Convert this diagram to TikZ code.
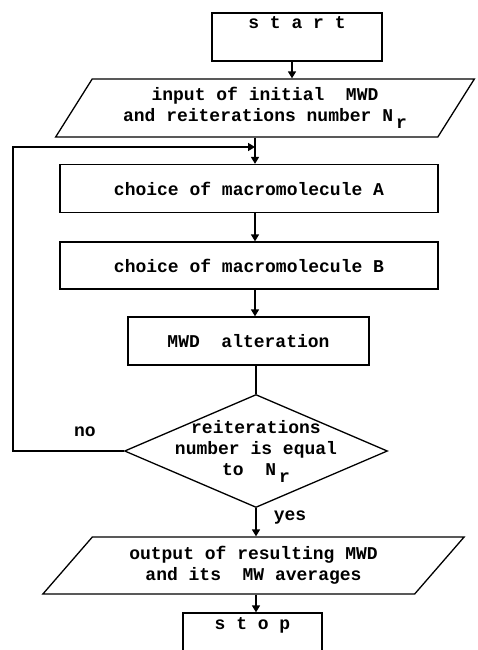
\documentclass[tikz,border=0pt]{standalone}
\usepackage{fontspec}
\setmonofont{Liberation Mono}
\usepackage{tikz}
\usetikzlibrary{arrows.meta, shapes.geometric}

\newcommand{\Nr}{N\,\raisebox{-7pt}{r}}

\begin{document}
\begin{tikzpicture}[x=1pt, y=-1pt, font=\fontsize{18}{21}\selectfont\ttfamily\bfseries]
        \useasboundingbox (0, 0) rectangle (477, 650);
        \tikzset{box/.style={draw, line width=1.3pt, inner sep=0pt, align=center},
                 io/.style={trapezium, draw, line width=1.3pt, inner sep=0pt, align=center, trapezium stretches=true},
                 flow/.style={line width=1.3pt, -{Triangle[angle=60:8pt, black, fill=black]}}};
        % boxes
        \node [box, minimum width=170, minimum height=48, text height=8pt, text depth=24pt] (start) at (297, 37) {s t a r t};
        \node [io, trapezium left angle=54, trapezium right angle=126, minimum width=420, minimum height=58] (input) at (265, 108) {input of initial \ MWD\\and reiterations number \Nr};
        \node [box, minimum width=378, minimum height=48] (choiceA) at (249, 188.5) {choice of macromolecule A};
        \node [box, minimum width=378, minimum height=47] (choiceB) at (249, 265.5) {choice of macromolecule B};
        \node [box, minimum width=241, minimum height=48] (alter) at (248.5, 341) {MWD \ alteration};
        \node [diamond, draw, line width=1.3pt, inner sep=0pt, minimum width=263, minimum height=113] (test) at (256, 451) {};
        \node [align=center] (testtext) at (test) {reiterations\\number is equal\\to \ \Nr};
        \node [io, trapezium left angle=45, trapezium right angle=135, minimum width=423, minimum height=57] (output) at (253.5, 565.5) {output of resulting MWD\\ and its \ MW averages};
        \node [box, minimum width=139, minimum height=48, text height=8pt, text depth=24pt] (stop) at (252.5, 637) {s t o p};
        \node (no) at (85, 432) {no};
        \node (yes) at (290, 518) {yes};
        % connectors
        \coordinate (join) at (255, 147);
        \coordinate (loop) at (13, 147);
        \draw [flow] (start.south -| 292, 0) -- (292, 0 |- input.north);
        \draw [flow] (input.south -| join) -- (join |- choiceA.north);
        \draw [flow] (choiceA.south -| join) -- (join |- choiceB.north);
        \draw [flow] (choiceB.south -| join) -- (join |- alter.north);
        \draw [line width=1.3pt] (alter.south -| test.north) -- (test.north);
        \draw [flow] (test.south) -- (test.south |- output.north);
        \draw [flow] (output.south -| test.south) -- (test.south |- stop.north);
        \draw [flow] (test.west) -| (loop) -- (join);
\end{tikzpicture}
\end{document}
